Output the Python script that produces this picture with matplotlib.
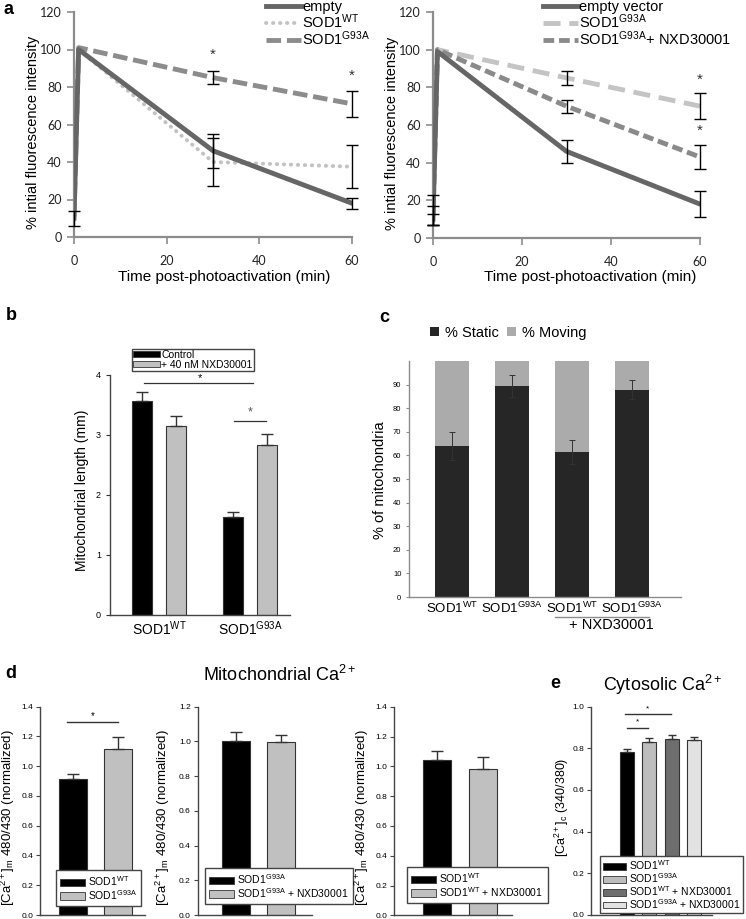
import numpy as np
import matplotlib
matplotlib.use('Agg')
import matplotlib.pyplot as plt
from matplotlib.patches import Patch
from matplotlib.lines import Line2D
import matplotlib.transforms as mtransforms

plt.rcParams['font.family'] = ['Liberation Sans', 'DejaVu Sans']
plt.rcParams['mathtext.fontset'] = 'custom'
plt.rcParams['mathtext.rm'] = 'Liberation Sans'
plt.rcParams['mathtext.it'] = 'Liberation Sans:italic'
plt.rcParams['mathtext.bf'] = 'Liberation Sans:bold'

# ====================================================================
## data
## panel a: photoactivation decay
time_a = [0, 1, 30, 60]
empty_L = [10, 100, 46, 18]
empty_L_err = [4, 0, 9, 3]
wt_L = [11, 100, 40, 37.5]
wt_L_err = [0, 0, 13, 11.5]
g93a_L = [11, 101, 85, 71]
g93a_L_err = [0, 0, 3.5, 7]

empty_R = [10, 99, 46, 18]
empty_R_err = [3, 0, 6, 7]
g93a_R = [15, 100, 85, 70]
g93a_R_err = [8, 0, 3.5, 7]
nxd_R = [12, 100, 70, 43]
nxd_R_err = [5, 0, 3.5, 6.5]

## panel b: mitochondrial length
groups_b = ['SOD1$^{\\mathrm{WT}}$', 'SOD1$^{\\mathrm{G93A}}$']
control_b = [3.57, 1.64]
control_b_err = [0.14, 0.07]
nxd_b = [3.15, 2.83]
nxd_b_err = [0.16, 0.18]

## panel c: static / moving
labels_c = ['SOD1$^{\\mathrm{WT}}$', 'SOD1$^{\\mathrm{G93A}}$', 'SOD1$^{\\mathrm{WT}}$', 'SOD1$^{\\mathrm{G93A}}$']
static_c = [64.0, 89.4, 61.5, 87.8]
static_c_err = [6.0, 4.5, 5.0, 4.0]
moving_c = [100 - v for v in static_c]

## panel d: mitochondrial Ca2+
d1_labels = ['SOD1$^{\\mathrm{WT}}$', 'SOD1$^{\\mathrm{G93A}}$']
d1_vals = [0.915, 1.117]
d1_err = [0.03, 0.08]
d2_labels = ['SOD1$^{\\mathrm{G93A}}$', 'SOD1$^{\\mathrm{G93A}}$ + NXD30001']
d2_vals = [1.0, 0.995]
d2_err = [0.055, 0.04]
d3_labels = ['SOD1$^{\\mathrm{WT}}$', 'SOD1$^{\\mathrm{WT}}$ + NXD30001']
d3_vals = [1.04, 0.98]
d3_err = [0.06, 0.085]

## panel e: cytosolic Ca2+
e_labels = ['SOD1$^{\\mathrm{WT}}$', 'SOD1$^{\\mathrm{G93A}}$',
            'SOD1$^{\\mathrm{WT}}$ + NXD30001', 'SOD1$^{\\mathrm{G93A}}$ + NXD30001']
e_vals = [0.781, 0.829, 0.847, 0.838]
e_err = [0.016, 0.022, 0.015, 0.017]
e_colors = ['#000000', '#bdbdbd', '#6e6e6e', '#e2e2e2']

# ====================================================================
W, H = 746, 919
fig = plt.figure(figsize=(W/100, H/100), dpi=100)

def box(l, t, r, b):
    return [l/W, 1-b/H, (r-l)/W, (b-t)/H]

def ftext(x, y, s, **kw):
    fig.text(x/W, 1-y/H, s, **kw)

# ====================================================================
## panel a
def style_a(ax):
    for s in ['top', 'right']:
        ax.spines[s].set_visible(False)
    for s in ['left', 'bottom']:
        ax.spines[s].set_color('#8c8c8c')
        ax.spines[s].set_linewidth(1.6)
    ax.set_xlim(0, 60)
    ax.set_ylim(0, 120)
    ax.set_xticks([0, 20, 40, 60])
    ax.set_yticks(range(0, 121, 20))
    ax.tick_params(direction='out', length=5, width=1.2, color='#8c8c8c',
                   labelsize=9, labelcolor='#222222', pad=4)
    ax.tick_params(axis='x', pad=8)
    for lab in ax.get_xticklabels() + ax.get_yticklabels():
        lab.set_family(['Lato', 'DejaVu Sans'])

def err_a(ax, y, e):
    ## error bars only where the figure shows one
    idx = [i for i in range(len(e)) if e[i] > 0]
    ax.errorbar([time_a[i] for i in idx], [y[i] for i in idx], yerr=[e[i] for i in idx],
                fmt='none', ecolor='black', elinewidth=1, capsize=4, capthick=1,
                zorder=4, clip_on=False)

dot_style = (0, (0.1, 1.7))

ax_aL = fig.add_axes(box(74, 12, 352, 237))
ax_aL.plot(time_a, empty_L, color='#666666', lw=3.5, solid_joinstyle='round', zorder=3)
ax_aL.plot(time_a, wt_L, color='#c2c2c2', lw=2.8, linestyle=dot_style,
           dash_capstyle='round', zorder=2)
ax_aL.plot(time_a, g93a_L, color='#8c8c8c', lw=3.5, dashes=(3, 1.2), zorder=2)
for y, e in [(empty_L, empty_L_err), (wt_L, wt_L_err), (g93a_L, g93a_L_err)]:
    err_a(ax_aL, y, e)
ax_aL.text(30, 97, '*', ha='center', va='center', fontsize=11, color='#333333')
ax_aL.text(60, 86, '*', ha='center', va='center', fontsize=11, color='#333333')
style_a(ax_aL)
ax_aL.legend(handles=[Line2D([0], [0], color='#666666', lw=3.5),
                      Line2D([0], [0], color='#c2c2c2', lw=2.8, linestyle=dot_style,
                             dash_capstyle='round'),
                      Line2D([0], [0], color='#8c8c8c', lw=3.5, dashes=(3, 1.2))],
             labels=['empty', 'SOD1$^{\\mathrm{WT}}$', 'SOD1$^{\\mathrm{G93A}}$'],
             loc='upper left', bbox_to_anchor=(266/W, 1+0/H), bbox_transform=fig.transFigure,
             frameon=False, fontsize=10.5, handlelength=2.4, handletextpad=0.1,
             labelspacing=-0.12, borderpad=0, borderaxespad=0)
ftext(224, 277, 'Time post-photoactivation (min)', ha='center', va='center', fontsize=11)
ftext(33, 132, '% intial fluorescence intensity', ha='center', va='center',
      rotation=90, fontsize=10.5)
ftext(3, 9, 'a', fontsize=13, fontweight='bold', ha='left', va='center')

ax_aR = fig.add_axes(box(433, 12, 700, 238))
ax_aR.plot(time_a, empty_R, color='#666666', lw=3.5, solid_joinstyle='round', zorder=3)
ax_aR.plot(time_a, g93a_R, color='#c4c4c4', lw=3.5, dashes=(3.5, 1.8), zorder=2)
ax_aR.plot(time_a, nxd_R, color='#8a8a8a', lw=3.5, dashes=(2.2, 1.0), zorder=2)
for y, e in [(empty_R, empty_R_err), (g93a_R, g93a_R_err), (nxd_R, nxd_R_err)]:
    err_a(ax_aR, y, e)
ax_aR.text(60, 84, '*', ha='center', va='center', fontsize=11, color='#333333')
ax_aR.text(60, 57, '*', ha='center', va='center', fontsize=11, color='#333333')
style_a(ax_aR)
ax_aR.legend(handles=[Line2D([0], [0], color='#666666', lw=3.5),
                      Line2D([0], [0], color='#c4c4c4', lw=3.5, dashes=(3.5, 1.8)),
                      Line2D([0], [0], color='#8a8a8a', lw=3.5, dashes=(2.2, 1.0))],
             labels=['empty vector', 'SOD1$^{\\mathrm{G93A}}$', 'SOD1$^{\\mathrm{G93A}}$+ NXD30001'],
             loc='upper left', bbox_to_anchor=(543/W, 1+0/H), bbox_transform=fig.transFigure,
             frameon=False, fontsize=10.5, handlelength=2.4, handletextpad=0.1,
             labelspacing=-0.12, borderpad=0, borderaxespad=0)
ftext(590, 277, 'Time post-photoactivation (min)', ha='center', va='center', fontsize=11)
ftext(392, 133, '% intial fluorescence intensity', ha='center', va='center',
      rotation=90, fontsize=10.5)

# ====================================================================
## panel b
ax_b = fig.add_axes(box(110, 375, 290, 615))
xb = np.arange(len(groups_b))
wb = 0.22
ax_b.bar(xb - 0.187, control_b, wb, color='black', edgecolor='#333333', lw=0.8,
         yerr=[[0]*2, control_b_err], error_kw=dict(ecolor='#333333', elinewidth=1, capsize=4, capthick=1))
ax_b.bar(xb + 0.187, nxd_b, wb, color='#c0c0c0', edgecolor='#333333', lw=0.8,
         yerr=[[0]*2, nxd_b_err], error_kw=dict(ecolor='#333333', elinewidth=1, capsize=4, capthick=1))
ax_b.set_xlim(-0.538, 1.44)
ax_b.set_ylim(0, 4)
ax_b.set_yticks([0, 1, 2, 3, 4])
ax_b.set_xticks(xb)
ax_b.set_xticklabels(groups_b, fontsize=10)
ax_b.tick_params(axis='x', length=0, pad=3)
ax_b.tick_params(axis='y', direction='out', length=3, width=0.8, labelsize=6.5, color='#333333')
for s in ['top', 'right']:
    ax_b.spines[s].set_visible(False)
for s in ['left', 'bottom']:
    ax_b.spines[s].set_color('#444444')
    ax_b.spines[s].set_linewidth(1.0)
ax_b.plot([-0.16, 1.03], [3.87, 3.87], color='#333333', lw=0.9, clip_on=False)
ax_b.text(0.45, 3.95, '*', ha='center', va='center', fontsize=8, clip_on=False)
ax_b.plot([0.82, 1.18], [3.23, 3.23], color='#333333', lw=0.9, clip_on=False)
ax_b.text(1.0, 3.38, '*', ha='center', va='center', fontsize=9, color='#555555')
ax_b.legend(handles=[Patch(facecolor='black', edgecolor='#333333', lw=0.6),
                     Patch(facecolor='#c0c0c0', edgecolor='#333333', lw=0.6)],
            labels=['Control', '+ 40 nM NXD30001'],
            loc='upper left', bbox_to_anchor=(132/W, 1-349/H), bbox_transform=fig.transFigure,
            fancybox=False, edgecolor='#444444', framealpha=1, fontsize=7.5,
            handlelength=2.6, handleheight=0.5, handletextpad=0.1, labelspacing=-0.05,
            borderpad=0.1, borderaxespad=0)
ftext(82, 490, 'Mitochondrial length (mm)', ha='center', va='center', rotation=90, fontsize=10)
ftext(6, 315, 'b', fontsize=13, fontweight='bold', ha='left', va='center')

# ====================================================================
## panel c
ax_c = fig.add_axes(box(409, 361, 681, 597))
xc = np.arange(len(labels_c))
wc = 0.58
ax_c.bar(xc, static_c, wc, color='#262626', label='% Static')
ax_c.bar(xc, moving_c, wc, bottom=static_c, color='#ababab', label='% Moving')
ax_c.errorbar(xc, static_c, yerr=static_c_err, fmt='none', ecolor='#333333', elinewidth=0.7, capsize=2, capthick=0.7)
ax_c.set_xlim(-0.717, 3.816)
ax_c.set_ylim(0, 100)
ax_c.set_yticks(range(0, 91, 10))
ax_c.set_xticks(xc)
ax_c.set_xticklabels(labels_c, fontsize=9.5)
ax_c.tick_params(axis='x', length=0, pad=3)
ax_c.tick_params(axis='y', direction='out', length=2, width=0.8, labelsize=5.5, color='#8c8c8c')
for s in ['top', 'right']:
    ax_c.spines[s].set_visible(False)
for s in ['left', 'bottom']:
    ax_c.spines[s].set_color('#8c8c8c')
    ax_c.spines[s].set_linewidth(1.0)
trans_c = mtransforms.blended_transform_factory(ax_c.transData, ax_c.transAxes)
ax_c.plot([1.71, 3.29], [-0.085, -0.085], color='#8c8c8c', lw=1.0, transform=trans_c, clip_on=False)
ax_c.text(2.65, -0.12, '+ NXD30001', transform=trans_c, ha='center', va='center', fontsize=10.5)
ax_c.legend(handles=[Patch(facecolor='#262626'), Patch(facecolor='#ababab')],
            labels=['% Static', '% Moving'], ncol=2,
            loc='center left', bbox_to_anchor=(430/W, 1-333/H), bbox_transform=fig.transFigure,
            frameon=False, fontsize=10.5, handlelength=0.6, handleheight=0.6,
            handletextpad=0.4, columnspacing=0.6, borderpad=0, borderaxespad=0)
ftext(380, 480, '% of mitochondria', ha='center', va='center', rotation=90, fontsize=10.5)
ftext(379, 318, 'c', fontsize=13, fontweight='bold', ha='left', va='center')

# ====================================================================
## panel d and e
def style_bar(ax):
    for s in ['top', 'right']:
        ax.spines[s].set_visible(False)
    for s in ['left', 'bottom']:
        ax.spines[s].set_color('#444444')
        ax.spines[s].set_linewidth(1.0)
    ax.set_xticks([])
    ax.tick_params(axis='y', direction='out', length=3, width=0.8, labelsize=6, pad=2,
                   color='#444444')

def d_panel(rect, vals, errs, labels, xlim, ymax, leg_xy):
    ax = fig.add_axes(rect)
    x = np.arange(len(vals))
    ax.bar(x, vals, 0.62, color=['black', '#c0c0c0'], edgecolor='#333333', lw=0.8,
           yerr=[[0]*len(vals), errs], error_kw=dict(ecolor='#333333', elinewidth=1, capsize=4, capthick=1))
    ax.set_xlim(*xlim)
    ax.set_ylim(0, ymax)
    ax.set_yticks(np.arange(0, ymax + 0.01, 0.2))
    ax.yaxis.set_major_formatter(matplotlib.ticker.FormatStrFormatter('%.1f'))
    style_bar(ax)
    ax.legend(handles=[Patch(facecolor='black', edgecolor='#333333', lw=0.6),
                       Patch(facecolor='#c0c0c0', edgecolor='#333333', lw=0.6)],
              labels=labels, loc='upper left', bbox_to_anchor=(leg_xy[0]/W, 1-leg_xy[1]/H),
              bbox_transform=fig.transFigure, fancybox=False, edgecolor='#444444',
              framealpha=1, fontsize=7.5, handlelength=2.4, handleheight=0.7,
              handletextpad=0.3, labelspacing=0.0, borderpad=0.4, borderaxespad=0)
    return ax

ylab_d = '[Ca$^{2+}$]$_{\\mathrm{m}}$ 480/430 (normalized)'
ax_d1 = d_panel(box(40, 706.7, 145, 915), d1_vals, d1_err, d1_labels, (-0.74, 1.59), 1.4, (56, 870))
ax_d1.plot([-0.15, 1.0], [1.30, 1.30], color='#333333', lw=1.0)
ax_d1.text(0.42, 1.335, '*', ha='center', va='center', fontsize=7)
ax_d2 = d_panel(box(197.7, 706.7, 312, 915), d2_vals, d2_err, d2_labels, (-0.86, 1.69), 1.2, (205, 868))
ax_d3 = d_panel(box(394.3, 706.7, 512, 915.3), d3_vals, d3_err, d3_labels, (-0.95, 1.65), 1.4, (407, 867))
ftext(8, 818, ylab_d, ha='center', va='center', rotation=90, fontsize=9.5)
ftext(163, 818, ylab_d, ha='center', va='center', rotation=90, fontsize=9.5)
ftext(362, 818, ylab_d, ha='center', va='center', rotation=90, fontsize=9.5)
ftext(280, 675, 'Mitochondrial Ca$^{2+}$', ha='center', va='center', fontsize=13)
ftext(5, 673, 'd', fontsize=13, fontweight='bold', ha='left', va='center')

ax_e = fig.add_axes(box(591, 706.7, 712, 914.7))
xe = np.arange(len(e_vals))
ax_e.bar(xe, e_vals, 0.64, color=e_colors, edgecolor='#333333', lw=0.8,
         yerr=[[0]*4, e_err], error_kw=dict(ecolor='#333333', elinewidth=1, capsize=3, capthick=1))
ax_e.set_xlim(-1.59, 3.79)
ax_e.set_ylim(0, 1.0)
ax_e.set_yticks(np.arange(0, 1.01, 0.2))
ax_e.yaxis.set_major_formatter(matplotlib.ticker.FormatStrFormatter('%.1f'))
style_bar(ax_e)
ax_e.plot([-0.08, 1.95], [0.963, 0.963], color='#333333', lw=1.0)
ax_e.text(0.93, 0.99, '*', ha='center', va='center', fontsize=6)
ax_e.plot([0.02, 0.95], [0.896, 0.896], color='#333333', lw=1.0)
ax_e.text(0.47, 0.925, '*', ha='center', va='center', fontsize=6)
ax_e.legend(handles=[Patch(facecolor=c, edgecolor='#333333', lw=0.6) for c in e_colors],
            labels=e_labels, loc='upper left', bbox_to_anchor=(600/W, 1-856/H),
            bbox_transform=fig.transFigure, fancybox=False, edgecolor='#444444',
            framealpha=1, fontsize=7.5, handlelength=2.2, handleheight=0.6,
            handletextpad=0.3, labelspacing=-0.1, borderpad=0.25, borderaxespad=0)
ftext(562, 807, '[Ca$^{2+}$]$_{\\mathrm{c}}$ (340/380)', ha='center', va='center', rotation=90, fontsize=9)
ftext(663, 685, 'Cytosolic Ca$^{2+}$', ha='center', va='center', fontsize=13)
ftext(550, 683, 'e', fontsize=13, fontweight='bold', ha='left', va='center')

fig.savefig('out.png', dpi=100, facecolor='white')
